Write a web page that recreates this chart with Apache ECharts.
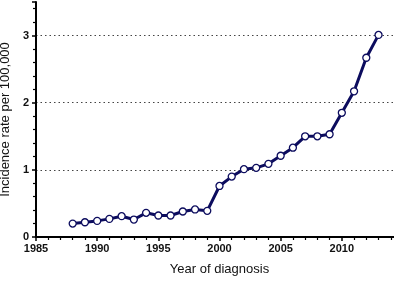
<!DOCTYPE html>
<html><head><meta charset="utf-8">
<script src="https://cdn.jsdelivr.net/npm/echarts@6/dist/echarts.min.js"></script>
<style>html,body{margin:0;padding:0;background:#fff}#c{width:394px;height:281px}</style>
</head><body><div id="c"></div>
<script>
const years = [1988,1989,1990,1991,1992,1993,1994,1995,1996,1997,1998,1999,2000,2001,2002,2003,2004,2005,2006,2007,2008,2009,2010,2011,2012,2013];
const rates = [0.20,0.22,0.24,0.27,0.31,0.26,0.36,0.32,0.32,0.38,0.41,0.39,0.76,0.90,1.01,1.03,1.09,1.21,1.33,1.50,1.50,1.53,1.85,2.17,2.67,3.01];
const xTicks = [1985,1990,1995,2000,2005,2010];
const yTicks = [0,1,2,3];

const chart = echarts.init(document.getElementById('c'), null, {renderer:'canvas'});
chart.setOption({
  animation:false,
  grid:{left:36,right:-9,top:2,bottom:44,outerBoundsMode:'none',containLabel:false},
  xAxis:{
    type:'value',min:1985,max:2015,interval:5,
    name:'Year of diagnosis',nameLocation:'middle',nameGap:26,
    nameTextStyle:{fontFamily:'Liberation Sans',fontSize:13,color:'#111'},
    axisLine:{show:true,lineStyle:{color:'#000',width:2}},
    axisTick:{show:true,length:4,lineStyle:{color:'#000',width:1.5}},
    minorTick:{show:true,splitNumber:5,length:3,lineStyle:{color:'#000',width:1.2}},
    axisLabel:{fontFamily:'Liberation Sans',fontWeight:'bold',fontSize:11,color:'#111',margin:6,showMaxLabel:false,
      formatter:v=>xTicks.includes(v)?String(v):''},
    splitLine:{show:false}
  },
  yAxis:{
    type:'value',min:0,max:3.5,interval:1,
    name:'Incidence rate per 100,000',nameLocation:'middle',nameGap:22,
    nameTextStyle:{fontFamily:'Liberation Sans',fontSize:13,color:'#111'},
    axisLine:{show:true,lineStyle:{color:'#000',width:2}},
    axisTick:{show:true,length:4,lineStyle:{color:'#000',width:1.5}},
    minorTick:{show:true,splitNumber:5,length:3,lineStyle:{color:'#000',width:1.2}},
    axisLabel:{fontFamily:'Liberation Sans',fontWeight:'bold',fontSize:11,color:'#111',margin:7,
      formatter:v=>yTicks.includes(v)?String(v):''},
    splitLine:{show:true,showMinLine:false,showMaxLine:false,lineStyle:{color:'#444',type:[1.5,3],width:1.2}}
  },
  series:[{
    type:'line',
    data:years.map((y,i)=>[y,rates[i]]),
    symbol:'circle',symbolSize:7,
    lineStyle:{color:'#0c0c5e',width:3},
    itemStyle:{color:'#fff',borderColor:'#0c0c5e',borderWidth:1.3},
    clip:false
  }]
});
</script></body></html>
